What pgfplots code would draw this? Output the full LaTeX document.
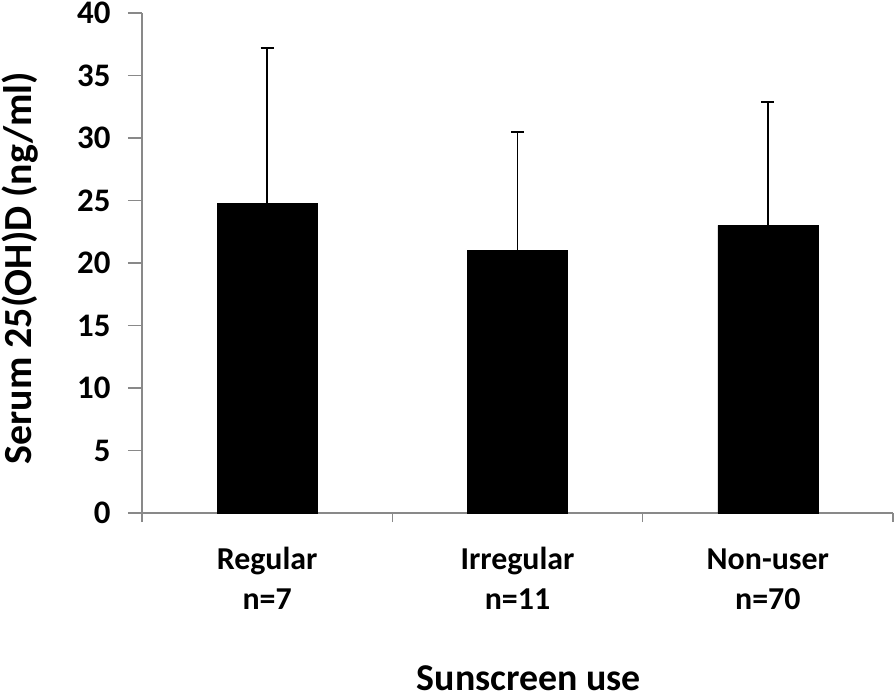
\documentclass[border=0pt]{standalone}
\usepackage{fontspec}
\setmainfont{Carlito}
\usepackage{pgfplots}
\pgfplotsset{compat=1.18}
\definecolor{axgray}{HTML}{898989}
\begin{document}
\begin{tikzpicture}
\useasboundingbox (-142bp,-185bp) rectangle (754bp,513bp);
\begin{axis}[
  scale only axis,
  width=751bp, height=500bp,
  at={(0,0)}, anchor=south west,
  xmin=-0.5, xmax=2.5,
  ymin=0, ymax=40,
  ytick={0,5,...,40},
  xtick={0,1,2},
  xticklabels={{Regular\\n=7},{Irregular\\n=11},{Non-user\\n=70}},
  xticklabel style={align=center, font=\fontsize{32}{40}\selectfont\bfseries, anchor=base, yshift=-82bp},
  yticklabel style={font=\fontsize{33}{38}\selectfont\bfseries, xshift=-14bp},
  /pgf/number format/assume math mode=true,
  minor xtick={-0.5,0.5,1.5,2.5},
  major x tick style={draw=none},
  tick align=outside,
  major tick length=14bp,
  minor tick length=9bp,
  every tick/.style={axgray, line width=1.5bp},
  minor x tick style={axgray, line width=1.5bp},
  axis x line*=bottom,
  axis y line*=left,
  axis line style={axgray, line width=1.5bp, -},
  ylabel={Serum 25(OH)D (ng/ml)},
  ylabel style={font=\fontsize{40}{46}\selectfont\bfseries, at={(axis description cs:-0.162,0.49)}, anchor=center},
  xlabel={Sunscreen use},
  xlabel style={font=\fontsize{38}{44}\selectfont\bfseries, at={(axis description cs:0.515,-0.354)}, anchor=base},
  clip=false,
]
\addplot[ybar, bar width=0.4, fill=black, draw=black,
  error bars/.cd, y dir=plus, y explicit,
  error bar style={black, line width=1.8bp},
  error mark options={rotate=90, black, mark size=6.5bp, line width=1.8bp}]
  coordinates {(0,24.75) +- (0,12.45) (1,21.0) +- (0,9.45) (2,23.0) +- (0,9.9)};
\end{axis}
\end{tikzpicture}
\end{document}
